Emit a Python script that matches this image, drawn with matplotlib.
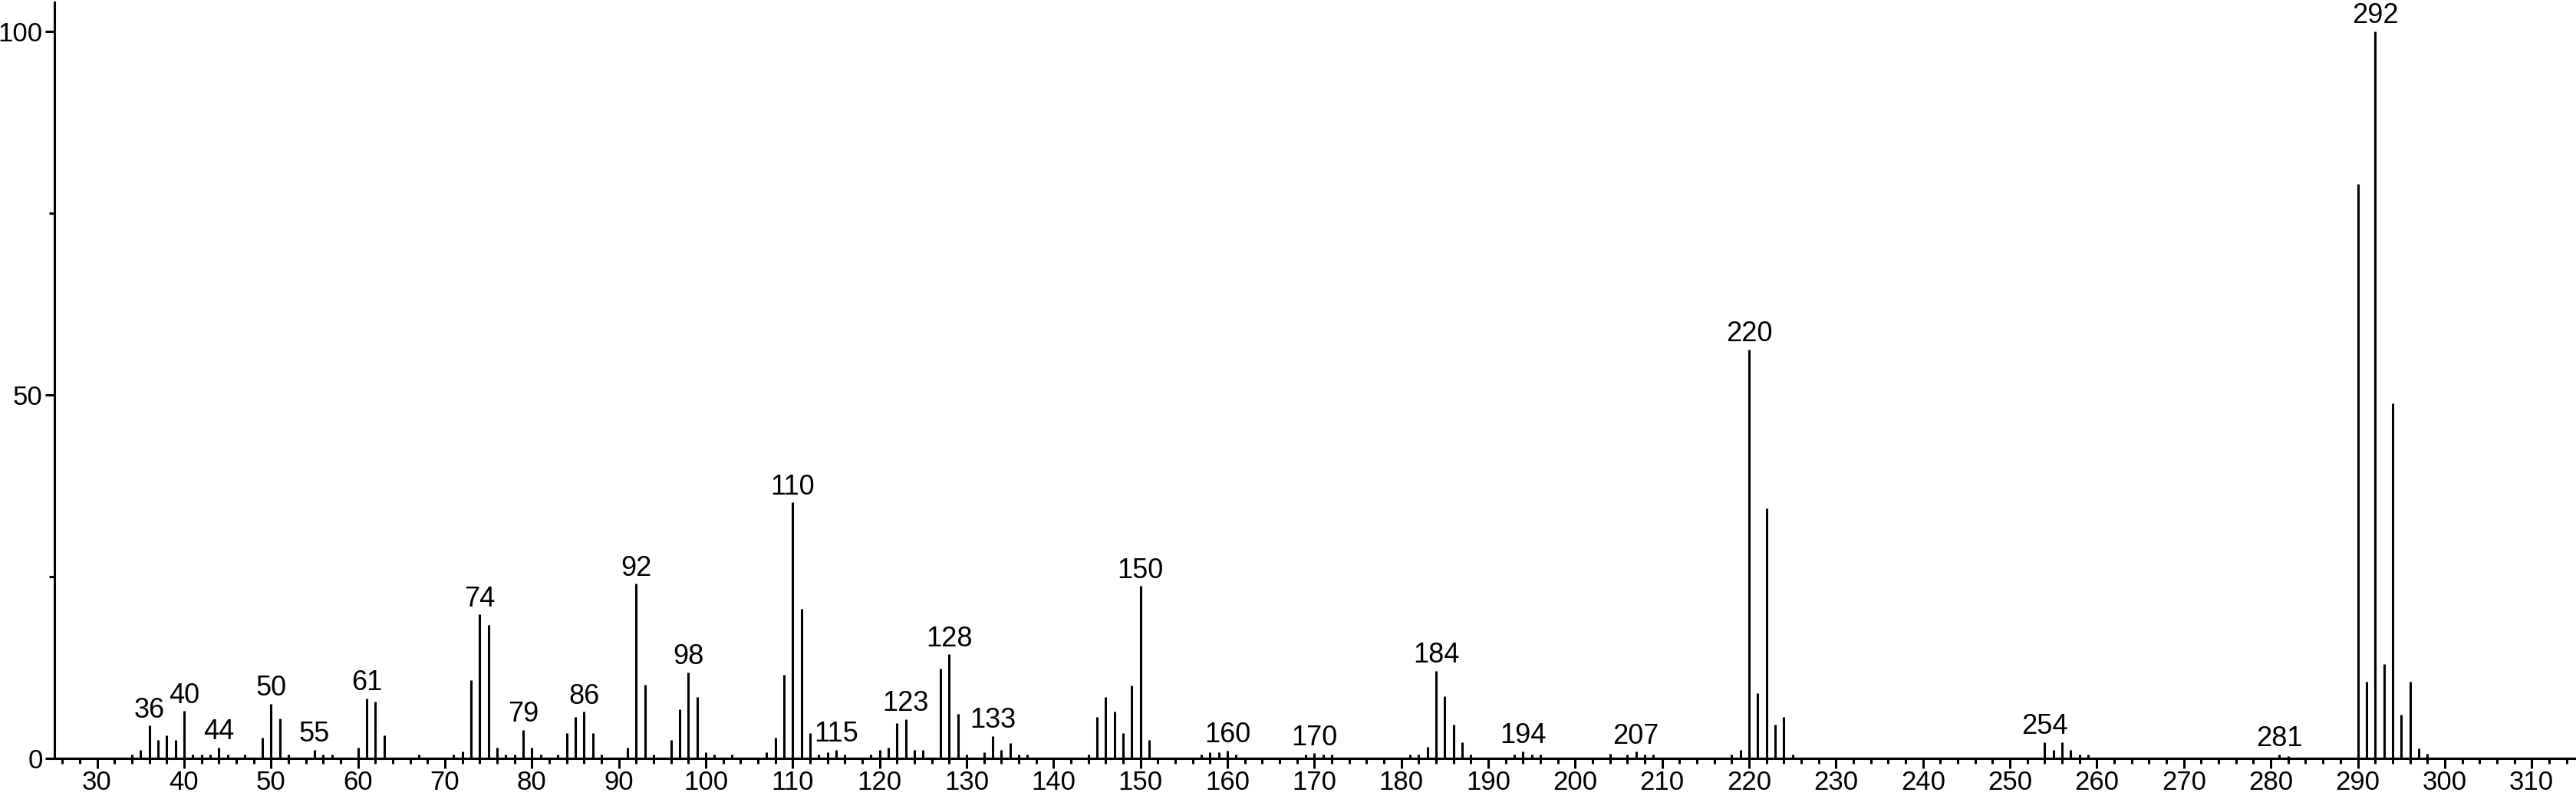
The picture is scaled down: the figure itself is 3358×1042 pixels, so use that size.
import matplotlib
matplotlib.use("Agg")
import matplotlib.pyplot as plt
from matplotlib.ticker import MultipleLocator

plt.rcParams['font.family'] = ['Liberation Sans', 'DejaVu Sans']

# m/z values and relative intensities
mz = [34, 35, 36, 37, 38, 39, 40, 41, 42, 43, 44, 45, 47, 49, 50, 51, 52,
      55, 56, 57, 60, 61, 62, 63, 67, 71, 72, 73, 74, 75, 76, 77, 78, 79, 80,
      81, 83, 84, 85, 86, 87, 88, 91, 92, 93, 94, 96, 97, 98, 99, 100, 101,
      103, 107, 108, 109, 110, 111, 112, 113, 114, 115, 116, 119, 120, 121,
      122, 123, 124, 125, 127, 128, 129, 130, 132, 133, 134, 135, 136, 137,
      144, 145, 146, 147, 148, 149, 150, 151, 157, 158, 159, 160, 161,
      169, 170, 171, 172, 181, 182, 183, 184, 185, 186, 187, 188,
      193, 194, 195, 196, 204, 206, 207, 208, 209, 218, 219,
      220, 221, 222, 223, 224, 225, 254, 255, 256, 257, 258, 259,
      281, 282, 290, 291, 292, 293, 294, 295, 296, 297, 298]
intensity = [0.5, 1.2, 4.5, 2.5, 3.2, 2.5, 6.5, 0.5, 0.5, 0.5, 1.5, 0.5, 0.5,
             2.9, 7.5, 5.5, 0.5, 1.2, 0.5, 0.5, 1.5, 8.2, 7.8, 3.2, 0.5, 0.5,
             0.9, 10.8, 19.8, 18.4, 1.5, 0.5, 0.5, 3.9, 1.5,
             0.5, 0.5, 3.5, 5.7, 6.4, 3.5, 0.5, 1.5, 24.0, 10.1, 0.5, 2.5,
             6.8, 11.8, 8.4, 0.8, 0.5, 0.5, 0.8, 2.8, 11.5, 35.2, 20.6, 3.5,
             0.5, 0.8, 1.2, 0.5, 0.5, 1.2, 1.5, 4.8, 5.4, 1.2, 1.2,
             12.3, 14.3, 6.1, 0.5, 0.8, 3.1, 1.2, 2.1, 0.5, 0.5,
             0.5, 5.7, 8.4, 6.4, 3.5, 10.0, 23.7, 2.5, 0.5, 0.8, 0.8, 1.1, 0.5,
             0.5, 0.7, 0.5, 0.5, 0.5, 0.5, 1.6, 12.0, 8.5, 4.6, 2.2, 0.5,
             0.5, 1.0, 0.5, 0.5, 0.6, 0.5, 0.9, 0.5, 0.5, 0.5, 1.2,
             56.2, 9.0, 34.4, 4.6, 5.7, 0.5, 2.2, 1.2, 2.2, 1.2, 0.5, 0.5,
             0.5, 0.3, 79.0, 10.6, 100.0, 13.0, 48.8, 6.0, 10.6, 1.4, 0.6]

# peaks that carry an m/z label
labeled = [36, 40, 44, 50, 55, 61, 74, 79, 86, 92, 98, 110, 115, 123, 128,
           133, 150, 160, 170, 184, 194, 207, 220, 254, 281, 292]

W, H = 3358, 1042
fig = plt.figure(figsize=(W / 100, H / 100), dpi=100)
left = 71 / W
bottom = 53 / H
ax = fig.add_axes([left, bottom, 1 - left, 1 - bottom - 0.003])

ax.vlines(mz, 0, intensity, colors='black', linewidth=2.2)

height = dict(zip(mz, intensity))
for m in labeled:
    ax.annotate(str(m), (m, height[m]), xytext=(0, 2), textcoords='offset points',
                ha='center', va='bottom', fontsize=26)

ax.set_xlim(25.1, 315.1)
ax.set_ylim(0, 104.0)

ax.set_xticks(range(30, 311, 10))
ax.xaxis.set_minor_locator(MultipleLocator(2))
ax.set_yticks([0, 50, 100])
ax.set_yticks([25, 75], minor=True)

ax.tick_params(which='major', direction='out', length=9, width=2.2,
               labelsize=25, pad=2)
ax.tick_params(which='minor', direction='out', length=5, width=2.2)

for s in ['top', 'right']:
    ax.spines[s].set_visible(False)
for s in ['left', 'bottom']:
    ax.spines[s].set_linewidth(2.2)

fig.savefig('out.png', dpi=100)
